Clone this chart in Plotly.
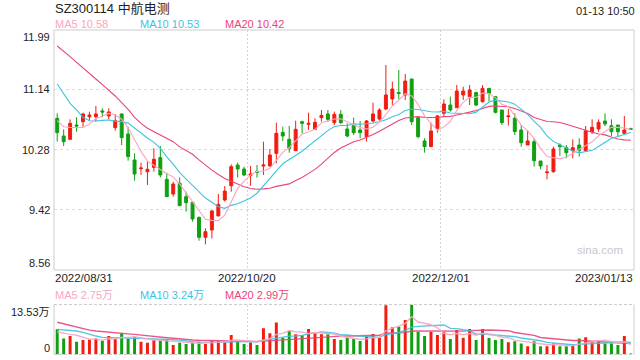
import plotly.graph_objects as go
import pandas as pd

# ---------------- data ----------------
opens = [10.728, 10.475, 10.427, 10.632, 10.680, 10.751, 10.751, 10.833, 10.761, 10.594,
         10.790, 10.504, 10.132, 10.008, 9.965, 10.027, 10.166, 9.856, 9.646, 9.799,
         9.608, 9.527, 9.313, 9.027, 9.132, 9.332, 9.560, 9.765, 10.060, 10.003,
         9.913, 9.970, 10.046, 10.046, 10.227, 10.527, 10.427, 10.265, 10.680, 10.642,
         10.570, 10.737, 10.790, 10.666, 10.785, 10.575, 10.623, 10.561, 10.465, 10.689,
         10.718, 10.861, 11.004, 11.095, 11.061, 11.290, 10.737, 10.404, 10.323, 10.585,
         10.799, 10.918, 10.880, 11.061, 11.037, 11.095, 10.966, 11.156, 11.037, 10.847,
         10.751, 10.727, 10.561, 10.346, 10.394, 10.118, 9.951, 9.965, 10.346, 10.308,
         10.265, 10.346, 10.265, 10.537, 10.575, 10.689, 10.623, 10.632, 10.513, 10.580]
highs = [10.799, 10.570, 10.713, 10.742, 10.808, 10.823, 10.904, 10.871, 10.871, 10.790,
         10.799, 10.609, 10.227, 10.094, 10.108, 10.299, 10.332, 9.951, 9.822, 9.884,
         9.679, 9.527, 9.322, 9.155, 9.417, 9.646, 9.760, 10.070, 10.094, 10.037,
         10.046, 10.061, 10.394, 10.289, 10.666, 10.608, 10.618, 10.694, 10.694, 10.808,
         10.728, 10.847, 10.847, 10.823, 10.847, 10.656, 10.737, 10.689, 10.704, 10.951,
         10.871, 11.490, 11.252, 11.418, 11.361, 11.290, 10.751, 10.442, 10.666, 10.775,
         10.999, 11.037, 11.204, 11.180, 11.204, 11.109, 11.204, 11.156, 11.037, 10.847,
         10.861, 10.799, 10.632, 10.561, 10.442, 10.118, 10.061, 10.323, 10.370, 10.346,
         10.427, 10.442, 10.618, 10.713, 10.713, 10.799, 10.713, 10.632, 10.761, 10.594]
lows = [10.394, 10.332, 10.427, 10.537, 10.608, 10.694, 10.680, 10.742, 10.713, 10.551,
        10.346, 10.122, 9.837, 9.918, 9.775, 9.965, 9.884, 9.608, 9.608, 9.479,
        9.394, 9.251, 8.979, 8.927, 9.012, 9.332, 9.537, 9.679, 9.880, 9.903,
        9.765, 9.880, 9.918, 10.037, 10.084, 10.404, 10.237, 10.265, 10.513, 10.561,
        10.570, 10.680, 10.680, 10.632, 10.647, 10.456, 10.489, 10.442, 10.394, 10.666,
        10.694, 10.847, 10.918, 11.000, 10.990, 10.632, 10.442, 10.237, 10.323, 10.523,
        10.761, 10.823, 10.880, 10.990, 10.918, 10.904, 10.951, 10.966, 10.799, 10.632,
        10.623, 10.489, 10.323, 10.346, 10.037, 9.999, 9.856, 9.951, 10.189, 10.156,
        10.156, 10.180, 10.265, 10.504, 10.537, 10.618, 10.475, 10.465, 10.513, 10.561]
closes = [10.523, 10.394, 10.656, 10.618, 10.790, 10.775, 10.790, 10.818, 10.818, 10.694,
          10.451, 10.180, 9.932, 10.017, 9.999, 10.142, 9.918, 9.608, 9.789, 9.479,
          9.522, 9.289, 9.027, 9.108, 9.403, 9.498, 9.689, 10.037, 10.003, 9.918,
          9.932, 9.956, 10.060, 10.203, 10.513, 10.475, 10.299, 10.570, 10.656, 10.656,
          10.670, 10.770, 10.713, 10.785, 10.666, 10.475, 10.523, 10.523, 10.689, 10.790,
          10.847, 11.061, 11.147, 11.085, 11.261, 10.680, 10.465, 10.323, 10.547, 10.761,
          10.932, 10.847, 11.118, 11.118, 11.132, 10.918, 11.156, 11.085, 10.813, 10.666,
          10.761, 10.537, 10.380, 10.404, 10.122, 10.046, 9.960, 10.289, 10.323, 10.237,
          10.308, 10.265, 10.551, 10.599, 10.670, 10.647, 10.537, 10.537, 10.561, 10.570]
# volume in units of 万 (10k)
volumes = [6.81, 4.36, 4.99, 3.45, 3.90, 4.09, 4.36, 3.72, 4.99, 4.18,
           5.72, 4.36, 4.81, 3.45, 3.18, 3.90, 3.72, 4.09, 2.54, 3.18,
           2.81, 3.18, 3.45, 2.81, 3.72, 3.63, 3.45, 5.27, 3.63, 2.81,
           3.27, 2.54, 7.08, 5.72, 8.63, 4.54, 6.36, 5.45, 5.27, 6.90,
           5.72, 5.45, 5.45, 4.18, 3.90, 4.45, 4.18, 3.63, 4.99, 5.54,
           4.54, 13.35, 7.35, 7.54, 9.35, 13.53, 6.17, 4.99, 6.17, 5.27,
           6.17, 4.18, 6.63, 4.54, 6.90, 3.90, 6.90, 4.45, 3.90, 4.18,
           3.32, 3.59, 2.95, 2.23, 3.59, 2.23, 2.23, 2.95, 2.23, 2.23,
           2.32, 4.32, 4.68, 3.50, 3.77, 3.00, 3.00, 2.54, 4.99, 0.23]

# moving-average values at the start of the window (they depend on earlier, unseen days)
ma5_head = [10.694, 10.608, 10.599, 10.599]
ma10_head = [11.218, 11.075, 10.942, 10.847, 10.742, 10.694, 10.690, 10.699, 10.704]
ma20_head = [11.761, 11.690, 11.609, 11.528, 11.452, 11.371, 11.290, 11.209, 11.132, 11.047,
             10.951, 10.856, 10.742, 10.656, 10.585, 10.537, 10.489, 10.451, 10.394]
vma5_head = [6.17, 5.72, 5.45, 5.20]
vma10_head = [6.81, 6.72, 6.54, 6.36, 5.99, 5.45, 4.99, 4.63, 4.54]
vma20_head = [8.72, 8.26, 7.81, 7.36, 6.90, 6.58, 6.36, 6.17, 5.99, 5.81,
              5.72, 5.58, 5.45, 5.31, 5.10, 4.95, 4.75, 4.55, 4.38]

price_ma_last = [10.58, 10.53, 10.42]
vol_ma_last = [2.75, 3.24, 2.99]
price_ticks = [11.99, 11.14, 10.28, 9.42, 8.56]
vol_max = 13.53
date_labels = ["2022/08/31", "2022/10/20", "2022/12/01", "2023/01/13"]
title_text = "SZ300114 中航电测"
time_text = "01-13 10:50"

# ---------------- helpers ----------------
def moving_avg(values, window, head):
    s = pd.Series(values).rolling(window).mean().tolist()
    return list(head) + s[len(head):]

n = len(closes)
xs = list(range(n))
ma5 = moving_avg(closes, 5, ma5_head)
ma10 = moving_avg(closes, 10, ma10_head)
ma20 = moving_avg(closes, 20, ma20_head)
vma5 = moving_avg(volumes, 5, vma5_head)
vma10 = moving_avg(volumes, 10, vma10_head)
vma20 = moving_avg(volumes, 20, vma20_head)

RED = "#f21c10"
GREEN = "#0fa00f"
C5 = "#f9a6c2"
C10 = "#3ec3df"
C20 = "#e9447c"
FONT = "Liberation Sans, Arial, Noto Sans CJK SC, sans-serif"
TXT = "#222222"

W, H = 640, 360
X0, X1 = 54 / W, 634 / W
MAIN = [1 - 270 / H, 1 - 30 / H]
VOL = [1 - 354.5 / H, 1 - 304.5 / H]

fig = go.Figure()
fig.add_trace(go.Candlestick(
    x=xs, open=opens, high=highs, low=lows, close=closes,
    increasing=dict(line=dict(color=RED, width=1), fillcolor=RED),
    decreasing=dict(line=dict(color=GREEN, width=1), fillcolor=GREEN),
    whiskerwidth=0, showlegend=False, hoverinfo="skip", xaxis="x", yaxis="y"))
for vals, col in [(ma20, C20), (ma10, C10), (ma5, C5)]:
    fig.add_trace(go.Scatter(x=xs, y=vals, mode="lines", line=dict(color=col, width=1.1),
                             showlegend=False, hoverinfo="skip", xaxis="x", yaxis="y"))

vol_colors = [RED if c >= o else GREEN for o, c in zip(opens, closes)]
fig.add_trace(go.Bar(x=xs, y=volumes, marker=dict(color=vol_colors, line=dict(width=0)),
                     width=0.46, showlegend=False, hoverinfo="skip", xaxis="x2", yaxis="y2"))
for vals, col in [(vma20, C20), (vma10, C10), (vma5, C5)]:
    fig.add_trace(go.Scatter(x=xs, y=vals, mode="lines", line=dict(color=col, width=1.4),
                             opacity=0.9, showlegend=False, hoverinfo="skip",
                             xaxis="x2", yaxis="y2"))

xr = [-0.5, n - 0.5]
third = (xr[1] - xr[0]) / 3
vgrid = [xr[0] + third, xr[0] + 2 * third]
xcommon = dict(range=xr, showticklabels=False, tickvals=vgrid, showgrid=True,
               gridcolor="#d4d4d4", griddash="2px,2px", gridwidth=1, zeroline=False,
               showline=False, fixedrange=True)
fig.update_layout(
    width=W, height=H, margin=dict(l=0, r=0, t=0, b=0),
    paper_bgcolor="white", plot_bgcolor="white",
    boxgap=0.35,
    xaxis=dict(domain=[X0, X1], anchor="y", rangeslider=dict(visible=False), **xcommon),
    yaxis=dict(domain=MAIN, anchor="x", range=[price_ticks[-1], price_ticks[0]],
               tickvals=price_ticks[1:-1], showticklabels=False, showgrid=True,
               gridcolor="#dcdcdc", griddash="3px,3px", zeroline=False, showline=False),
    xaxis2=dict(domain=[X0, X1], anchor="y2", **xcommon),
    yaxis2=dict(domain=VOL, anchor="x2", range=[0, vol_max], showticklabels=False,
                showgrid=False, zeroline=False, showline=False),
    font=dict(family=FONT, color=TXT, size=11),
)

# frames
shapes = [
    dict(type="rect", xref="paper", yref="paper", x0=X0, x1=X1, y0=MAIN[0], y1=MAIN[1],
         line=dict(color="#cccccc", width=1)),
    dict(type="line", xref="paper", yref="paper", x0=X0, x1=X0, y0=VOL[0], y1=VOL[1],
         line=dict(color="#cccccc", width=1)),
    dict(type="line", xref="paper", yref="paper", x0=X1, x1=X1, y0=VOL[0], y1=VOL[1],
         line=dict(color="#cccccc", width=1)),
    dict(type="line", xref="paper", yref="paper", x0=X0, x1=X1, y0=VOL[1], y1=VOL[1],
         line=dict(color="#cccccc", width=1, dash="3px,2px")),
    dict(type="line", xref="paper", yref="paper", x0=X0, x1=X1, y0=VOL[0], y1=VOL[0],
         line=dict(color="#cccccc", width=1, dash="3px,2px")),
]
fig.update_layout(shapes=shapes)

ann = []
def add_text(text, x, y, xanchor="left", yanchor="middle", size=11, color=TXT,
             xref="paper", yref="paper"):
    ann.append(dict(text=text, x=x, y=y, xref=xref, yref=yref, xanchor=xanchor,
                    yanchor=yanchor, showarrow=False, borderpad=0,
                    font=dict(size=size, color=color, family=FONT)))

add_text(title_text, 54 / W, 1 - 8 / H, size=13)
add_text(time_text, 636 / W, 1 - 11 / H, xanchor="right", size=11)
for (lab, val, col, px) in zip(["MA5", "MA10", "MA20"], price_ma_last, [C5, C10, C20],
                               [54, 139, 224]):
    add_text(f"{lab} {val:.2f}", px / W, 1 - 24 / H, color=col)
for (lab, val, col, px) in zip(["MA5", "MA10", "MA20"], vol_ma_last, [C5, C10, C20],
                               [54, 139, 224]):
    add_text(f"{lab} {val:.2f}万", px / W, 1 - 295 / H, color=col)

# price axis labels
for k, v in enumerate(price_ticks):
    ya = "top" if k == 0 else ("bottom" if k == len(price_ticks) - 1 else "middle")
    add_text(f"{v:.2f}", 51 / W, v, xanchor="right", yanchor=ya, yref="y")
# volume axis labels
add_text(f"{vol_max:.2f}万", 51 / W, vol_max, xanchor="right", yanchor="top", yref="y2")
add_text("0", 51 / W, 0, xanchor="right", yanchor="bottom", yref="y2")

# date labels
date_pos = [xr[0], vgrid[0], vgrid[1], xr[1]]
date_anchor = ["left", "center", "center", "right"]
for lab, p, a in zip(date_labels, date_pos, date_anchor):
    add_text(lab, p, 1 - 278 / H, xanchor=a, xref="x", size=11.5)

add_text("sina.com", 624 / W, 1 - 250 / H, xanchor="right", color="#c8c8c8", size=11.5)
fig.update_layout(annotations=ann)

fig.write_html("out.html", config={"displayModeBar": False},
               post_script="document.body.style.margin='0';document.body.style.overflow='hidden';")
